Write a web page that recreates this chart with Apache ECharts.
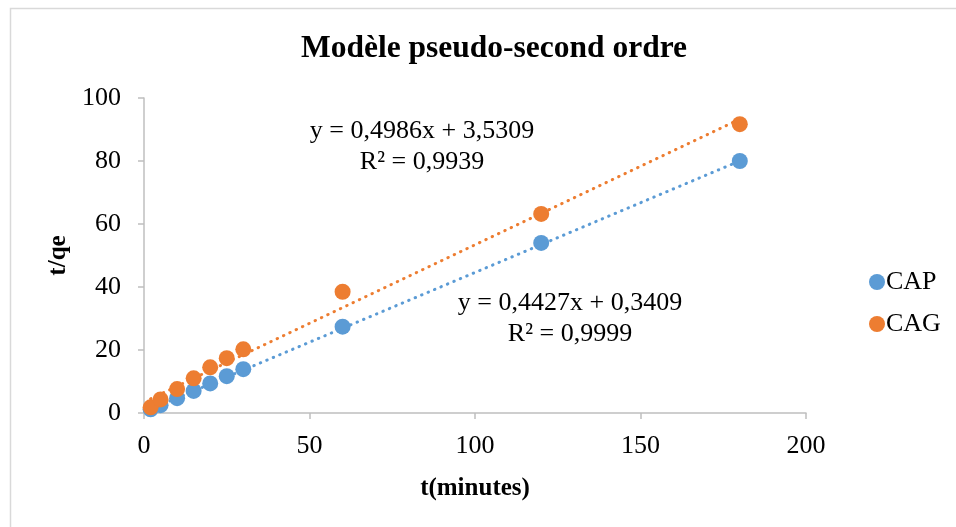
<!DOCTYPE html>
<html>
<head>
<meta charset="utf-8">
<script src="https://cdn.jsdelivr.net/npm/echarts@6/dist/echarts.min.js"></script>
<style>html,body{margin:0;padding:0;background:#fff}#c{width:956px;height:527px}</style>
</head>
<body>
<div id="c"></div>
<script>
const times = [2, 5, 10, 15, 20, 25, 30, 60, 120, 180];
const capValues = [1.2, 2.5, 4.7, 7.0, 9.4, 11.7, 13.9, 27.4, 54.0, 80.0];
const cagValues = [1.8, 4.3, 7.6, 11.0, 14.5, 17.4, 20.2, 38.5, 63.2, 91.7];
const capTrend = { slope: 0.4427, intercept: 0.3409, r2: '0,9999', eq: 'y = 0,4427x + 0,3409' };
const cagTrend = { slope: 0.4986, intercept: 3.5309, r2: '0,9939', eq: 'y = 0,4986x + 3,5309' };
const xTicks = [0, 50, 100, 150, 200];
const yTicks = [0, 20, 40, 60, 80, 100];

const BLUE = '#5B9BD5', ORANGE = '#ED7D31';
const FONT = '"Liberation Serif", "Times New Roman", serif';

function pairs(xs, ys) { return xs.map((x, i) => [x, ys[i]]); }
function trendLine(t) {
  const x0 = times[0], x1 = times[times.length - 1];
  return [[x0, t.slope * x0 + t.intercept], [x1, t.slope * x1 + t.intercept]];
}

const chart = echarts.init(document.getElementById('c'), null, { renderer: 'canvas' });
const axisCommon = {
  axisLine: { show: true, lineStyle: { color: '#BFBFBF', width: 1.5 } },
  axisTick: { show: true, inside: false, length: 6, lineStyle: { color: '#BFBFBF', width: 1.5 } },
  splitLine: { show: false },
  axisLabel: { color: '#000', fontFamily: FONT, fontSize: 26 },
  nameTextStyle: { color: '#000', fontFamily: FONT, fontSize: 25, fontWeight: 'bold' }
};
const trendStyle = c => ({ color: c, width: 3, type: [0.5, 6.5], cap: 'round' });

chart.setOption({
  animation: false,
  backgroundColor: '#fff',
  title: {
    text: 'Modèle pseudo-second ordre',
    left: 489, top: 28, textAlign: 'center',
    textStyle: { fontFamily: FONT, fontSize: 31.5, fontWeight: 'bold', color: '#000' }
  },
  grid: { left: 144, right: 150, top: 98, bottom: 114, containLabel: false },
  xAxis: Object.assign({}, axisCommon, {
    type: 'value', min: xTicks[0], max: xTicks[xTicks.length - 1], interval: 50,
    name: 't(minutes)', nameLocation: 'middle', nameGap: 63,
    axisLabel: Object.assign({}, axisCommon.axisLabel, { margin: 20 })
  }),
  yAxis: Object.assign({}, axisCommon, {
    type: 'value', min: yTicks[0], max: yTicks[yTicks.length - 1], interval: 20,
    name: 't/qe', nameLocation: 'middle', nameGap: 69, nameRotate: 90,
    axisLabel: Object.assign({}, axisCommon.axisLabel, { margin: 23 })
  }),
  legend: {
    orient: 'vertical', left: 864, top: 264, itemGap: 16,
    itemWidth: 16, itemHeight: 16, icon: 'circle',
    textStyle: { fontFamily: FONT, fontSize: 26, color: '#000', padding: [0, 0, 0, -4] },
    data: ['CAP', 'CAG']
  },
  series: [
    { name: 'CAP trend', type: 'line', data: trendLine(capTrend), symbol: 'none',
      lineStyle: trendStyle(BLUE), silent: true, z: 1 },
    { name: 'CAG trend', type: 'line', data: trendLine(cagTrend), symbol: 'none',
      lineStyle: trendStyle(ORANGE), silent: true, z: 1 },
    { name: 'CAP', type: 'scatter', data: pairs(times, capValues), symbol: 'circle', symbolSize: 16,
      itemStyle: { color: BLUE, opacity: 1 }, z: 3 },
    { name: 'CAG', type: 'scatter', data: pairs(times, cagValues), symbol: 'circle', symbolSize: 16,
      itemStyle: { color: ORANGE, opacity: 1 }, z: 4 }
  ],
  graphic: [
    { type: 'rect', shape: { x: 10.5, y: 8.5, width: 1000, height: 700 },
      style: { fill: 'none', stroke: '#D9D9D9', lineWidth: 1.5 }, silent: true, z: -1 },
    { type: 'text', x: 422, y: 147, style: { text: cagTrend.eq + '\nR² = ' + cagTrend.r2,
      font: '26px ' + FONT, fill: '#000', align: 'center', verticalAlign: 'middle', lineHeight: 31 }, z: 10 },
    { type: 'text', x: 570, y: 319, style: { text: capTrend.eq + '\nR² = ' + capTrend.r2,
      font: '26px ' + FONT, fill: '#000', align: 'center', verticalAlign: 'middle', lineHeight: 31 }, z: 10 }
  ]
});
</script>
</body>
</html>
